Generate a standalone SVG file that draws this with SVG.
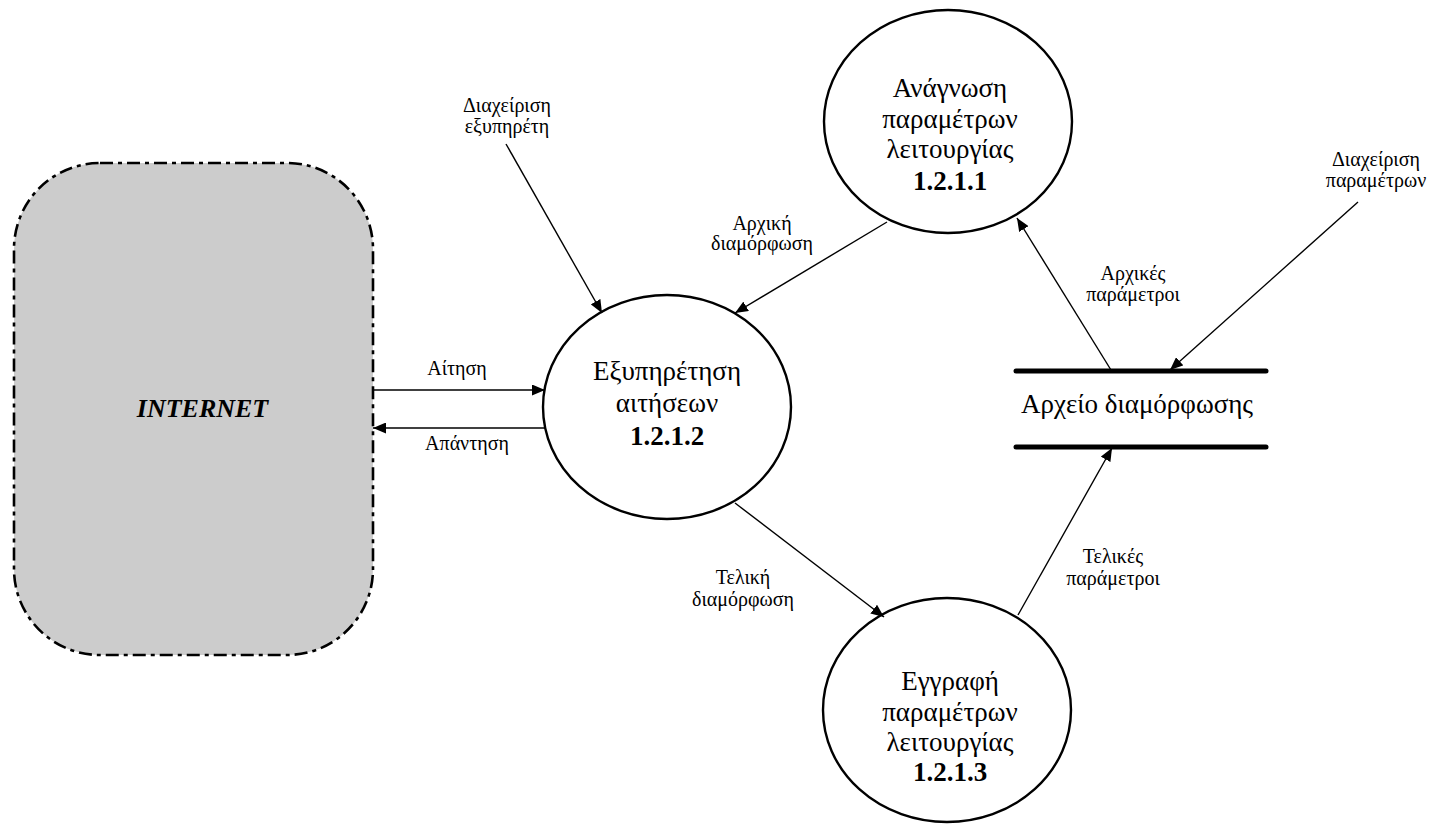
<svg xmlns="http://www.w3.org/2000/svg" width="1433" height="824" viewBox="0 0 1433 824">
<style>
.node{fill:#fff;stroke:#000;stroke-width:2.4}
.nt{font-family:"Liberation Serif","Times New Roman",serif;font-size:27px;text-anchor:middle;fill:#000}
.num{font-weight:bold}
.lbl{font-family:"Liberation Serif","Times New Roman",serif;font-size:20px;text-anchor:middle;fill:#000}
.flow{fill:none;stroke:#000;stroke-width:1.4;marker-end:url(#arr)}
.bar{stroke:#000;stroke-width:5;stroke-linecap:round}
</style>
<defs>
<marker id="arr" markerUnits="userSpaceOnUse" markerWidth="13" markerHeight="11" refX="13" refY="5.5" orient="auto">
<path d="M0,0 L13,5.5 L0,11 z" fill="#000"/>
</marker>
</defs>
<rect width="1433" height="824" fill="#fff"/>
<g id="internet">
<rect x="14" y="163" width="359" height="492" rx="86" ry="86" fill="#cccccc" stroke="#000" stroke-width="2.6" stroke-dasharray="13,5,4,5"/>
<text x="202.5" y="417" font-family="'Liberation Serif','Times New Roman',serif" font-size="26" font-weight="bold" font-style="italic" text-anchor="middle">INTERNET</text>
</g>
<g id="p1211">
<ellipse class="node" cx="948" cy="121.5" rx="124" ry="111.5"/>
<text class="nt" x="950" y="97">Ανάγνωση</text>
<text class="nt" x="950" y="128">παραμέτρων</text>
<text class="nt" x="950" y="158">λειτουργίας</text>
<text class="nt num" x="950" y="190">1.2.1.1</text>
</g>
<g id="p1212">
<ellipse class="node" cx="667" cy="407" rx="124" ry="112"/>
<text class="nt" x="667" y="380">Εξυπηρέτηση</text>
<text class="nt" x="667" y="412">αιτήσεων</text>
<text class="nt num" x="667" y="445">1.2.1.2</text>
</g>
<g id="p1213">
<ellipse class="node" cx="947" cy="710" rx="124" ry="112"/>
<text class="nt" x="950" y="690">Εγγραφή</text>
<text class="nt" x="950" y="721">παραμέτρων</text>
<text class="nt" x="950" y="751">λειτουργίας</text>
<text class="nt num" x="950" y="781">1.2.1.3</text>
</g>
<g id="store">
<line class="bar" x1="1016" y1="371" x2="1266" y2="371"/>
<line class="bar" x1="1016" y1="447" x2="1266" y2="447"/>
<text class="nt" x="1137" y="413">Αρχείο διαμόρφωσης</text>
</g>
<g id="connectors">
<line class="flow" x1="373" y1="390" x2="545" y2="390"/>
<line class="flow" x1="545" y1="428" x2="373" y2="428"/>
<line class="flow" x1="506" y1="144" x2="602" y2="313"/>
<line class="flow" x1="887" y1="222" x2="735" y2="313"/>
<line class="flow" x1="735" y1="503" x2="884" y2="617"/>
<line class="flow" x1="1018" y1="615" x2="1112" y2="448"/>
<line class="flow" x1="1111" y1="370" x2="1017" y2="218"/>
<line class="flow" x1="1358" y1="202" x2="1170" y2="370"/>
</g>
<g id="labels">
<text class="lbl" x="457" y="375">Αίτηση</text>
<text class="lbl" x="467" y="450">Απάντηση</text>
<text class="lbl" x="507" y="112">Διαχείριση</text>
<text class="lbl" x="507" y="133">εξυπηρέτη</text>
<text class="lbl" x="762" y="230">Αρχική</text>
<text class="lbl" x="762" y="250">διαμόρφωση</text>
<text class="lbl" x="743" y="584">Τελική</text>
<text class="lbl" x="743" y="606">διαμόρφωση</text>
<text class="lbl" x="1133" y="280">Αρχικές</text>
<text class="lbl" x="1133" y="301">παράμετροι</text>
<text class="lbl" x="1113" y="563">Τελικές</text>
<text class="lbl" x="1113" y="585">παράμετροι</text>
<text class="lbl" x="1376" y="166">Διαχείριση</text>
<text class="lbl" x="1376" y="187">παραμέτρων</text>
</g>
</svg>
